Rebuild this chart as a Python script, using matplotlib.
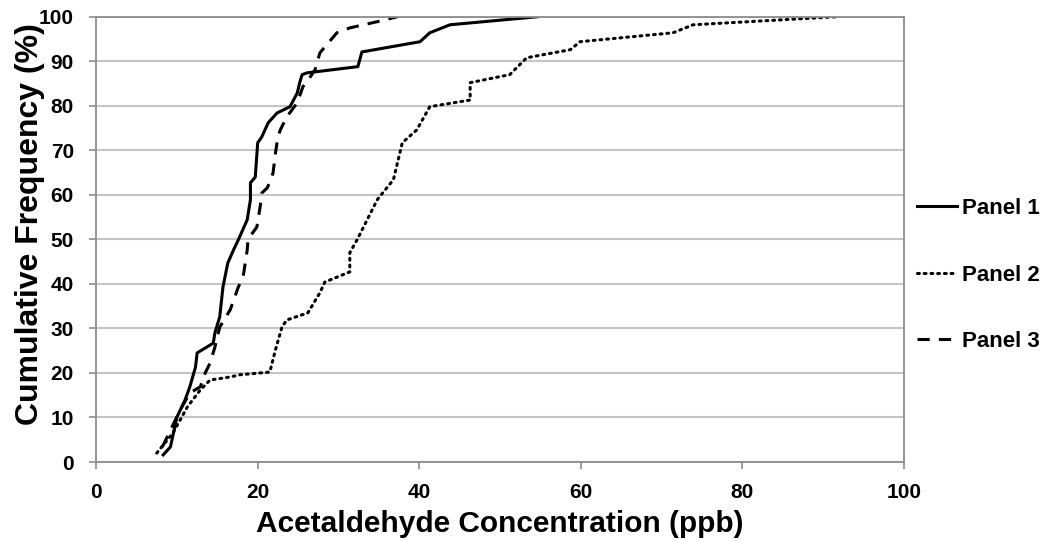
import matplotlib
matplotlib.use('Agg')
import matplotlib.pyplot as plt

# --- data (concentration ppb, cumulative %) ---
p1_x = [8.3, 9.2, 10.0, 11.0, 11.6, 12.3, 12.5, 14.5, 14.7, 15.3, 15.7, 16.3, 17.0, 17.6,
        18.7, 19.1, 19.1, 19.7, 20.0, 20.5, 21.3, 22.4, 24.0, 24.9, 25.2, 25.5, 26.1,
        32.4, 32.9, 40.1, 41.3, 43.8, 54.6]
p1_y = [1.6, 3.4, 10.1, 13.9, 16.9, 21.3, 24.5, 26.7, 29.0, 32.6, 39.3, 44.7, 47.6, 49.9,
        54.4, 58.9, 62.7, 64.0, 71.7, 73.0, 76.2, 78.4, 79.8, 82.9, 85.2, 87.0, 87.4,
        88.8, 92.1, 94.4, 96.4, 98.2, 100.0]

p2_x = [7.5, 9.5, 11.3, 12.9, 14.1, 16.6, 17.8, 21.5, 22.2, 23.0, 23.6, 26.2, 27.7, 28.3,
        31.4, 31.4, 32.3, 34.8, 35.1, 36.8, 37.9, 39.7, 41.3, 46.3, 46.3, 51.2, 53.3,
        58.7, 59.9, 71.4, 73.9, 84.7, 91.7]
p2_y = [2.0, 6.5, 12.4, 16.2, 18.4, 19.1, 19.6, 20.2, 25.2, 30.3, 31.9, 33.5, 38.0, 40.4,
        42.7, 47.0, 49.9, 58.9, 59.6, 63.4, 71.7, 74.6, 79.8, 81.3, 85.2, 87.0, 90.8,
        92.6, 94.4, 96.4, 98.2, 99.3, 100.0]

p3_x = [8.2, 9.4, 10.4, 11.6, 12.9, 13.5, 14.1, 14.7, 15.3, 16.6, 17.6, 18.2, 18.7, 18.8,
        19.9, 20.3, 20.5, 21.2, 21.9, 22.2, 22.5, 22.8, 23.6, 24.9, 25.6, 26.1, 27.1,
        27.7, 29.8, 31.4, 34.8, 37.3]
p3_y = [3.4, 7.9, 11.7, 15.5, 16.9, 20.0, 22.2, 25.8, 30.3, 34.2, 39.3, 41.6, 47.6, 50.0,
        52.8, 57.3, 60.4, 61.6, 64.9, 69.4, 73.0, 74.6, 77.5, 80.7, 84.3, 85.4, 88.1,
        91.9, 96.4, 97.5, 98.9, 100.0]

labels = ['Panel 1', 'Panel 2', 'Panel 3']
x_ticks = [0, 20, 40, 60, 80, 100]
y_ticks = [0, 10, 20, 30, 40, 50, 60, 70, 80, 90, 100]

plt.rcParams['font.family'] = ['Liberation Sans', 'DejaVu Sans']
plt.rcParams['font.weight'] = 'bold'

fig = plt.figure(figsize=(10.45, 5.41), dpi=100)
ax = fig.add_axes([0.092, 0.146, 0.773, 0.823])

ax.plot(p1_x, p1_y, color='black', lw=2.2, ls='-', label=labels[0])
ax.plot(p2_x, p2_y, color='black', lw=2.2, ls=(0, (0.6, 1.6)), dash_capstyle='round',
        label=labels[1])
ax.plot(p3_x, p3_y, color='black', lw=2.2, ls=(0, (4, 3)), label=labels[2])

ax.set_xlim(0, 100)
ax.set_ylim(0, 100)
ax.set_xticks(x_ticks)
ax.set_yticks(y_ticks)
ax.yaxis.grid(True, color='#c4c4c4', lw=1.5)
ax.set_axisbelow(True)
for s in ax.spines.values():
    s.set_color('#8c8c8c')
    s.set_linewidth(1.3)
ax.tick_params(direction='out', length=5, width=1.2, color='#8c8c8c',
               labelsize=15, labelcolor='black')
ax.tick_params(axis='x', pad=10)
ax.tick_params(axis='y', pad=11)
for t in ax.get_xticklabels() + ax.get_yticklabels():
    t.set_fontweight('bold')

ax.set_xlabel('Acetaldehyde Concentration (ppb)', fontsize=21.5, fontweight='bold', labelpad=6)
ax.set_ylabel('Cumulative Frequency (%)', fontsize=23, fontweight='bold')
ax.yaxis.set_label_coords(-0.063, 0.535)

ax.legend(loc='center left', bbox_to_anchor=(1.002, 0.42), frameon=False, borderpad=0,
          prop={'size': 16, 'weight': 'bold'}, handlelength=1.8, handletextpad=0.25,
          labelspacing=2.05)

fig.savefig('out.png', dpi=100)
